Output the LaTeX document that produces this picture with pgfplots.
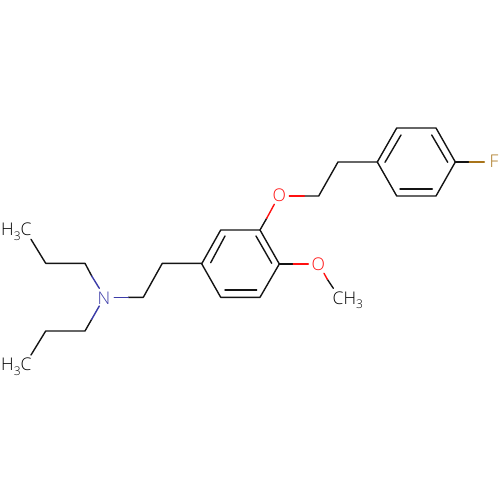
\documentclass[border=0pt]{standalone}
\usepackage{fontspec}
\setmainfont{Open Sans}[UprightFont=* Light]
\usepackage{pgfplots}
\pgfplotsset{compat=1.18}
\definecolor{nblue}{HTML}{3C3CA8}
\definecolor{ored}{HTML}{FF1010}
\definecolor{fgold}{HTML}{A8741A}
\newcommand{\sub}[1]{\raisebox{-4.8pt}{\fontsize{12}{12}\selectfont #1}}
\newcommand{\atom}[5]{\node[anchor=base west,inner sep=0pt,text=#1,font=\fontsize{17.5}{17.5}\selectfont] at (axis cs:#2,#3) {#4#5};}
\begin{document}
\begin{tikzpicture}
\useasboundingbox (0,0) rectangle (500pt,500pt);
\begin{axis}[at={(0,0)},anchor=south west,scale only axis,width=500pt,height=500pt,
  xmin=0,xmax=500,ymin=0,ymax=500,y dir=reverse,hide axis,clip=false,
  every axis plot/.append style={line width=1.4pt,no marks,line join=round,line cap=round}]
% carbon skeleton
\addplot[black!92] coordinates {(31,239.3)(45.7,263.3)(85,263.3)(91.7,276)};
\addplot[black!92] coordinates {(31,355)(45.7,331)(85,331)(91.7,319.3)};
\addplot[black!92] coordinates {(128.3,297.3)(143.3,297.3)(162.3,263.3)(201.7,263.3)};
\addplot[black!92] coordinates {(201.7,263.8)(220.7,230)(260,230)(279.3,264)(260,297.3)(220.7,297.3)(201.7,263.8)};
\addplot[black!92] coordinates {(225,236)(210.7,262.7)};
\addplot[black!92] coordinates {(256,236)(271.7,263.3)};
\addplot[black!92] coordinates {(225,290)(256.7,290)};
\addplot[black!92] coordinates {(260,230)(266.7,218.3)};
\addplot[black!92] coordinates {(304.3,196)(318.7,196)(338,162)(377.3,162)};
\addplot[black!92] coordinates {(279.3,264)(293.3,264)};
\addplot[black!92] coordinates {(327.3,279.3)(333.3,288.3)};
\addplot[black!92] coordinates {(377.3,162)(396.7,128)(436,128)(455.3,162)(436,196)(396.7,196)(377.3,162)};
\addplot[black!92] coordinates {(401,135)(385,162.3)};
\addplot[black!92] coordinates {(431.7,135)(447.7,162.3)};
\addplot[black!92] coordinates {(400,189)(432.3,189)};
\addplot[black!92] coordinates {(455.3,162)(469.3,162)};
% hetero bonds
\addplot[nblue] coordinates {(91.7,276)(99.3,288.3)};
\addplot[nblue] coordinates {(91.7,319.3)(99.3,306)};
\addplot[nblue] coordinates {(114.3,297.3)(128.3,297.3)};
\addplot[ored] coordinates {(266.7,218.3)(274.3,204.3)};
\addplot[ored] coordinates {(289.3,196)(304.3,196)};
\addplot[ored] coordinates {(293.3,264)(308.3,264)};
\addplot[ored] coordinates {(324,273.3)(327.3,279.3)};
\addplot[fgold] coordinates {(469.3,162)(484.3,162)};
% atom labels
\atom{black}{1}{236}{H\sub{3}}{C}
\atom{black}{1}{370.5}{H\sub{3}}{C}
\atom{black}{332.5}{304}{C}{H\sub{3}}
\atom{nblue}{97.5}{304}{N}{}
\atom{ored}{272.5}{202}{O}{}
\atom{ored}{311.5}{270}{O}{}
\atom{fgold}{489.5}{167.5}{F}{}
\end{axis}
\end{tikzpicture}
\end{document}
